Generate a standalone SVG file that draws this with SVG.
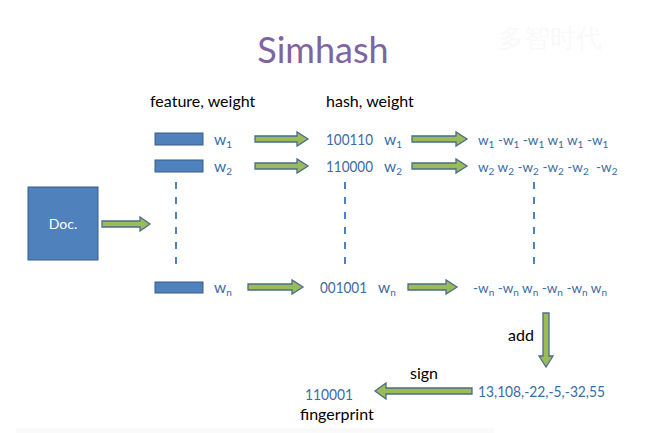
<svg xmlns="http://www.w3.org/2000/svg" width="656" height="433" viewBox="0 0 656 433">
<style>
text{font-family:Lato,"Liberation Sans",sans-serif}
.t{fill:#000;font-size:16px}
.b{fill:#3a6ca4;font-size:15.5px}
.r{fill:#3a6ca4;font-size:13.5px}
.s{font-size:10px}
.bar{fill:#4f81bd;stroke:#385d8a;stroke-width:1}
.arr{fill:#9bbb59;stroke:#4a6d8c;stroke-width:1.3}
.dash{stroke:#4f81bd;stroke-width:2;stroke-dasharray:7,8}
</style>
<rect x="0" y="0" width="656" height="433" fill="#fff"/>
<rect x="16" y="428" width="478" height="5" fill="#fafafa"/>
<text x="550" y="47" font-size="26" fill="#f9f9f9" text-anchor="middle" font-family="'Noto Sans CJK SC',sans-serif">多智时代</text>
<text x="323" y="63" font-size="36" fill="#8064a2" text-anchor="middle">Simhash</text>
<text class="t" x="150" y="107">feature, weight</text>
<text class="t" x="326" y="107">hash, weight</text>

<g id="doc">
<rect x="28" y="187" width="70" height="73" class="bar"/>
<text x="63" y="229" font-size="14" fill="#fff" text-anchor="middle">Doc.</text>
</g>

<g id="row1">
<rect x="155" y="133" width="48" height="12" class="bar"/>
<text class="b" x="214" y="145">w<tspan class="s" dy="3">1</tspan></text>
<text class="b" x="326" y="145" textLength="47" lengthAdjust="spacingAndGlyphs">100110</text>
<text class="b" x="384" y="145">w<tspan class="s" dy="3">1</tspan></text>
<text class="r" x="478" y="145">w<tspan class="s" dy="3">1</tspan><tspan dy="-3"> -w</tspan><tspan class="s" dy="3">1</tspan><tspan dy="-3"> -w</tspan><tspan class="s" dy="3">1</tspan><tspan dy="-3"> w</tspan><tspan class="s" dy="3">1</tspan><tspan dy="-3"> w</tspan><tspan class="s" dy="3">1</tspan><tspan dy="-3"> -w</tspan><tspan class="s" dy="3">1</tspan></text>
</g>
<g id="row2">
<rect x="155" y="160" width="48" height="12" class="bar"/>
<text class="b" x="214" y="172">w<tspan class="s" dy="3">2</tspan></text>
<text class="b" x="326" y="172" textLength="47" lengthAdjust="spacingAndGlyphs">110000</text>
<text class="b" x="384" y="172">w<tspan class="s" dy="3">2</tspan></text>
<text class="r" x="478" y="172">w<tspan class="s" dy="3">2</tspan><tspan dy="-3"> w</tspan><tspan class="s" dy="3">2</tspan><tspan dy="-3"> -w</tspan><tspan class="s" dy="3">2</tspan><tspan dy="-3"> -w</tspan><tspan class="s" dy="3">2</tspan><tspan dy="-3"> -w</tspan><tspan class="s" dy="3">2</tspan></text>
<text class="r" x="596" y="172">-w<tspan class="s" dy="3">2</tspan></text>
</g>
<g id="rown">
<rect x="155" y="282" width="48" height="11" class="bar"/>
<text class="b" x="214" y="293">w<tspan class="s" dy="3">n</tspan></text>
<text class="b" x="320" y="293" textLength="47" lengthAdjust="spacingAndGlyphs">001001</text>
<text class="b" x="378" y="293">w<tspan class="s" dy="3">n</tspan></text>
<text class="r" x="473" y="293">-w<tspan class="s" dy="3">n</tspan><tspan dy="-3"> -w</tspan><tspan class="s" dy="3">n</tspan><tspan dy="-3"> w</tspan><tspan class="s" dy="3">n</tspan><tspan dy="-3"> -w</tspan><tspan class="s" dy="3">n</tspan><tspan dy="-3"> -w</tspan><tspan class="s" dy="3">n</tspan><tspan dy="-3"> w</tspan><tspan class="s" dy="3">n</tspan></text>
</g>
<g id="sum">
<text class="b" x="478" y="397" font-size="15" textLength="127" lengthAdjust="spacingAndGlyphs">13,108,-22,-5,-32,55</text>
</g>
<g id="fingerprint">
<text class="b" x="305" y="400" font-size="15" textLength="48" lengthAdjust="spacingAndGlyphs">110001</text>
<text class="t" x="300" y="420">fingerprint</text>
</g>

<g id="connectors">
<line x1="176" y1="182" x2="176" y2="272" class="dash"/>
<line x1="345" y1="182" x2="345" y2="272" class="dash"/>
<line x1="534" y1="182" x2="534" y2="272" class="dash"/>
<path class="arr" d="M102,221 H140 V217 L150,224 L140,231 V227 H102 Z"/>
<path class="arr" d="M255,136 H297 V132 L308,139 L297,146 V142 H255 Z"/>
<path class="arr" d="M412,136 H456 V132 L467,139 L456,146 V142 H412 Z"/>
<path class="arr" d="M255,163 H297 V159 L308,166 L297,173 V169 H255 Z"/>
<path class="arr" d="M412,163 H456 V159 L467,166 L456,173 V169 H412 Z"/>
<path class="arr" d="M248,284 H292 V280 L303,287 L292,294 V290 H248 Z"/>
<path class="arr" d="M408,284 H446 V280 L457,287 L446,294 V290 H408 Z"/>
<path class="arr" d="M543,313 H549 V356 L553,356 L546,367 L539,356 H543 Z"/>
<path class="arr" d="M472,388 H386 V383 L375,391 L386,399 V394 H472 Z"/>
<text class="t" x="508" y="341">add</text>
<text class="t" x="410" y="379">sign</text>
</g>
</svg>
